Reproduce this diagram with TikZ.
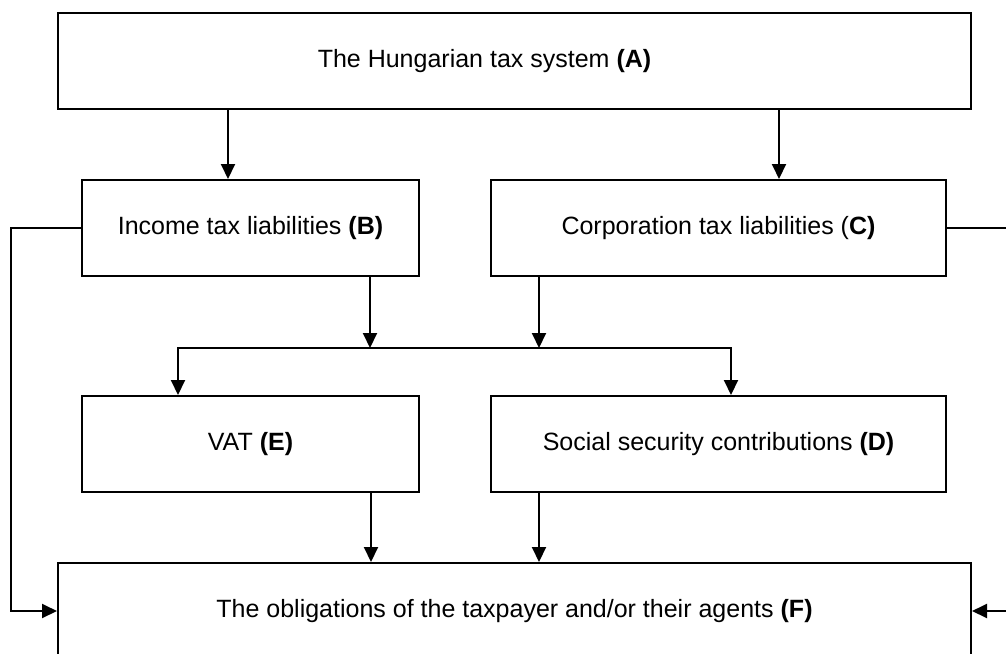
\documentclass[tikz,border=0pt]{standalone}
\usepackage{fontspec}
\setmainfont{Liberation Sans}
\usetikzlibrary{arrows.meta}
\begin{document}
\begin{tikzpicture}[x=0.5pt,y=-0.5pt,
  box/.style={draw, line width=1pt, inner sep=0pt, minimum height=48pt, font=\fontsize{12.5}{15}\selectfont},
  conn/.style={line width=1pt, -{Triangle[width=7pt,length=7.5pt]}},
  plain/.style={line width=1pt}]
\useasboundingbox (0,0) rectangle (1006,653);
\clip (0,0) rectangle (1006,653);
\node[box, minimum width=456.5pt] (A) at (514.5,61) {\hspace*{-30pt}The Hungarian tax system \textbf{(A)}};
\node[box, minimum width=168.5pt] (B) at (250.5,228) {Income tax liabilities \textbf{(B)}};
\node[box, minimum width=227.5pt] (C) at (718.5,228) {Corporation tax liabilities (\textbf{C)}};
\node[box, minimum width=168.5pt] (E) at (250.5,444) {VAT \textbf{(E)}};
\node[box, minimum width=227.5pt] (D) at (718.5,444) {Social security contributions \textbf{(D)}};
\node[box, minimum width=456.5pt] (F) at (514.5,611) {The obligations of the taxpayer and/or their agents \textbf{(F)}};
\coordinate (xAB) at (228,0);
\coordinate (xAC) at (779,0);
\coordinate (jB) at (370,348);
\coordinate (jC) at (539,348);
\coordinate (jl) at (178,348);
\coordinate (jr) at (731,348);
\coordinate (xE) at (371,0);
\coordinate (xD) at (539,0);
\coordinate (lx) at (11,0);
\coordinate (rx) at (1040,0);
\draw[conn] (A.south -| xAB) -- (B.north -| xAB);
\draw[conn] (A.south -| xAC) -- (C.north -| xAC);
\draw[conn] (B.south -| jB) -- (jB);
\draw[conn] (C.south -| jC) -- (jC);
\draw[line width=1pt, {Triangle[width=7pt,length=7.5pt]}-{Triangle[width=7pt,length=7.5pt]}] (E.north -| jl) -- (jl) -- (jr) -- (D.north -| jr);
\draw[conn] (E.south -| xE) -- (F.north -| xE);
\draw[conn] (D.south -| xD) -- (F.north -| xD);
\draw[conn] (B.west) -- (B.west -| lx) -- (F.west -| lx) -- (F.west);
\draw[conn] (C.east) -- (C.east -| rx) -- (F.east -| rx) -- (F.east);
\end{tikzpicture}
\end{document}
